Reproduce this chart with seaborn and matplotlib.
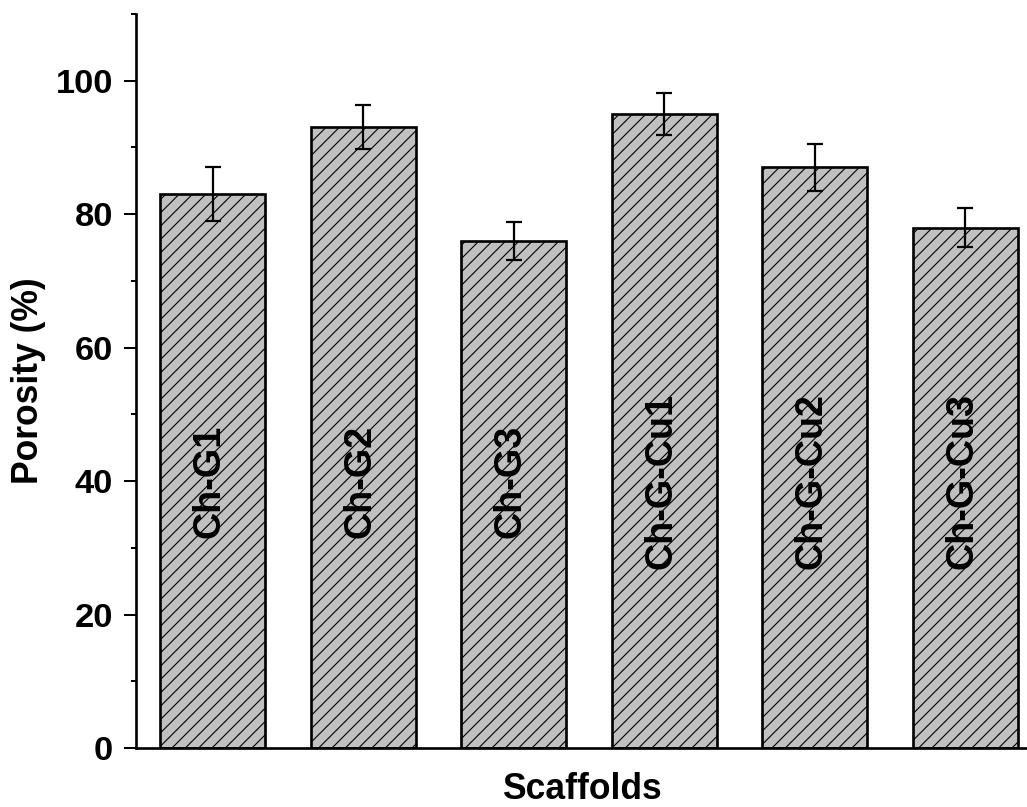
import matplotlib
matplotlib.use("Agg")
import matplotlib.pyplot as plt
import seaborn as sns
import numpy as np

categories = ["Ch-G1", "Ch-G2", "Ch-G3", "Ch-G-Cu1", "Ch-G-Cu2", "Ch-G-Cu3"]
porosity = [83, 93, 76, 95, 87, 78]
errors = [4.0, 3.3, 2.8, 3.2, 3.5, 2.9]
yticks = [0, 20, 40, 60, 80, 100]

sns.set_style("ticks")
plt.rcParams['font.family'] = ['Liberation Sans', 'DejaVu Sans']
plt.rcParams['font.weight'] = 'bold'
plt.rcParams['text.color'] = 'black'
plt.rcParams['axes.labelcolor'] = 'black'
plt.rcParams['xtick.color'] = 'black'
plt.rcParams['ytick.color'] = 'black'
plt.rcParams['hatch.linewidth'] = 1.0

DPI = 80
fig = plt.figure(figsize=(1027 / DPI, 807 / DPI), dpi=DPI)
ax = fig.add_axes([136 / 1027, 1 - 748 / 807, 1 - 136 / 1027, (748 - 14) / 807])

sns.barplot(x=categories, y=porosity, color="#c0c0c0", width=0.7,
            edgecolor="black", linewidth=2.4, saturation=1, ax=ax, errorbar=None)
for p in ax.patches:
    p.set_hatch('//')
    p.set_edgecolor('black')

xs = np.arange(len(categories))
ax.errorbar(xs, porosity, yerr=errors, fmt='none', ecolor='black',
            elinewidth=2.0, capsize=7.2, capthick=2.0, zorder=5)

for x, name in zip(xs, categories):
    ax.text(x - 0.02, 40, name, rotation=90, ha='center', va='center',
            fontsize=34, fontweight='bold', color='black', zorder=6)

ax.set_xlim(-0.51, 5.41)
ax.set_ylim(0, 110)
ax.set_yticks(yticks)
ax.set_yticks(np.arange(10, 111, 20), minor=True)
ax.set_xticks([])
ax.tick_params(axis='y', which='major', length=10.8, width=1.8, labelsize=31, pad=10,
               colors='black')
ax.tick_params(axis='y', which='minor', length=4.5, width=1.8, colors='black')
for lab in ax.get_yticklabels():
    lab.set_fontweight('bold')

for s in ['top', 'right']:
    ax.spines[s].set_visible(False)
for s in ['left', 'bottom']:
    ax.spines[s].set_linewidth(2.4)
    ax.spines[s].set_color('black')

ax.set_ylabel("Porosity (%)", fontsize=32, fontweight='bold', labelpad=9, color='black')
ax.set_xlabel("Scaffolds", fontsize=32, fontweight='bold', labelpad=22, color='black')

fig.savefig("out.png", dpi=DPI)
